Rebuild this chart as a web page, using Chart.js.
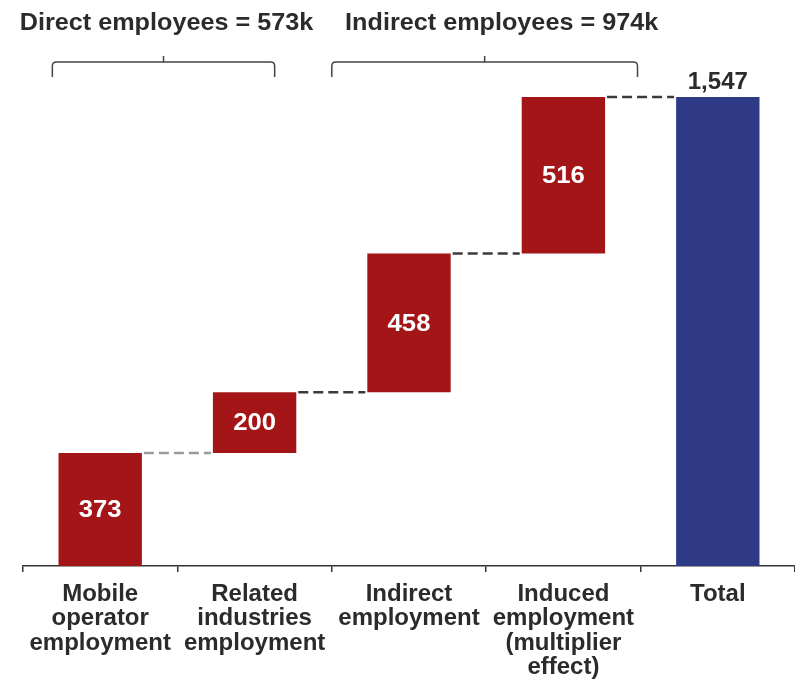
<!DOCTYPE html>
<html>
<head>
<meta charset="utf-8">
<script src="https://cdn.jsdelivr.net/npm/chart.js@4.4.1/dist/chart.umd.min.js"></script>
<style>
  html, body { margin: 0; padding: 0; background: #fff; }
  canvas { display: block; }
</style>
</head>
<body>
<canvas id="chart" width="795" height="685"></canvas>
<script>
// employment contributions (thousands)
const categories = [
  ["Mobile", "operator", "employment"],
  ["Related", "industries", "employment"],
  ["Indirect", "employment"],
  ["Induced", "employment", "(multiplier", "effect)"],
  ["Total"]
]
const steps = [373, 200, 458, 516]
const groups = [
  { label: "Direct employees", from: 0, to: 1, span: [-0.31, 1.13], shift: 3 },
  { label: "Indirect employees", from: 2, to: 3, span: [1.5, 3.48], shift: 17 }
]

const RED = '#a31517'
const BLUE = '#2f3a87'
const INK = '#2b2b2b'
const FONT = '"Liberation Sans", Arial, sans-serif'

// floating bars: each step starts where the previous one ended
const total = steps.reduce((a, b) => a + b, 0)
const ranges = []
let running = 0
steps.forEach(v => { ranges.push([running, running + v]); running += v })
ranges.push([0, total])
const colors = steps.map(() => RED).concat([BLUE])
const connectorColors = ['#9a9a9a', '#3a3a3a', '#3a3a3a', '#3a3a3a']

const fmt = n => n.toLocaleString('en-US')

// slightly widened text, centred on (x, y)
function wideText(ctx, text, x, y, sx) {
    ctx.save()
    ctx.translate(x, y)
    ctx.scale(sx, 1)
    ctx.fillText(text, 0, 0)
    ctx.restore()
}

const waterfallDecor = {
    id: 'waterfallDecor',
    afterDatasetsDraw(chart) {
        const { ctx } = chart
        const x = chart.scales.x
        const y = chart.scales.y
        const bars = chart.getDatasetMeta(0).data

        // dashed connectors between bars
        ctx.save()
        ctx.lineWidth = 2.5
        ctx.setLineDash([10, 5])
        for (let i = 0; i < bars.length - 1; i++) {
            const level = y.getPixelForValue(ranges[i][1])
            ctx.strokeStyle = connectorColors[i]
            ctx.beginPath()
            ctx.moveTo(bars[i].x + bars[i].width / 2 + 2, level)
            ctx.lineTo(bars[i + 1].x - bars[i + 1].width / 2 - 2, level)
            ctx.stroke()
        }
        ctx.restore()

        // values inside the step bars, total above its bar
        ctx.save()
        ctx.textAlign = 'center'
        ctx.textBaseline = 'middle'
        ctx.font = 'bold 24px ' + FONT
        bars.forEach((bar, i) => {
            if (i < steps.length) {
                ctx.fillStyle = '#fff'
                const mid = y.getPixelForValue((ranges[i][0] + ranges[i][1]) / 2)
                wideText(ctx, fmt(steps[i]), bar.x, mid + 1, 1.07)
            } else {
                ctx.fillStyle = INK
                wideText(ctx, fmt(total), bar.x, y.getPixelForValue(total) - 15, 1.0)
            }
        })
        ctx.restore()

        // group brackets with their headings
        ctx.save()
        ctx.strokeStyle = '#444'
        ctx.lineWidth = 1.5
        ctx.fillStyle = INK
        ctx.font = 'bold 24px ' + FONT
        ctx.textAlign = 'center'
        ctx.textBaseline = 'middle'
        groups.forEach(g => {
            const left = x.getPixelForValue(g.span[0])
            const right = x.getPixelForValue(g.span[1])
            const mid = (left + right) / 2
            const top = 62
            ctx.beginPath()
            ctx.moveTo(left, top + 15)
            ctx.lineTo(left, top + 4)
            ctx.quadraticCurveTo(left, top, left + 4, top)
            ctx.lineTo(right - 4, top)
            ctx.quadraticCurveTo(right, top, right, top + 4)
            ctx.lineTo(right, top + 15)
            ctx.moveTo(mid, top)
            ctx.lineTo(mid, top - 6)
            ctx.stroke()
            let sum = 0
            for (let i = g.from; i <= g.to; i++) sum += steps[i]
            wideText(ctx, g.label + ' = ' + sum + 'k', mid + g.shift, 23, 1.05)
        })
        ctx.restore()
    }
}

new Chart(document.getElementById('chart'), {
    type: 'bar',
    data: {
        labels: categories,
        datasets: [{
            data: ranges,
            backgroundColor: colors,
            borderWidth: 0,
            borderSkipped: false,
            categoryPercentage: 1,
            barPercentage: 0.54
        }]
    },
    options: {
        responsive: false,
        animation: false,
        events: [],
        layout: { padding: { top: 81, left: 23, right: 0, bottom: 0 } },
        plugins: {
            legend: { display: false },
            tooltip: { enabled: false }
        },
        scales: {
            x: {
                offset: true,
                grid: {
                    offset: true,
                    drawOnChartArea: false,
                    drawTicks: true,
                    tickLength: 6,
                    color: '#333',
                    lineWidth: 1.5
                },
                border: { display: true, color: '#333', width: 1.5 },
                ticks: {
                    color: INK,
                    maxRotation: 0,
                    autoSkip: false,
                    padding: 10,
                    font: { family: FONT, size: 24, weight: 'bold', lineHeight: 1.02 }
                },
                afterFit(scale) { scale.height = 119 }
            },
            y: {
                display: false,
                min: 0,
                max: 1600
            }
        }
    },
    plugins: [waterfallDecor]
})
</script>
</body>
</html>
